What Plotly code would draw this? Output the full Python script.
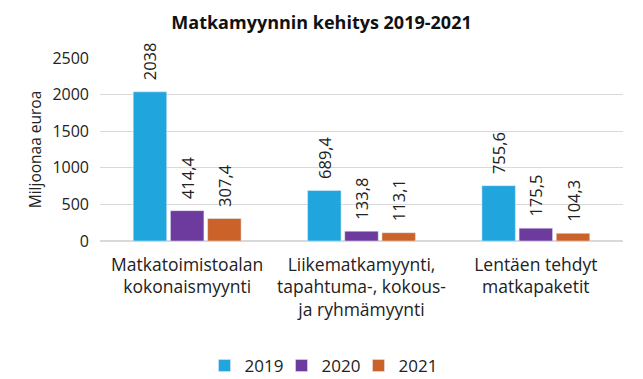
import plotly.graph_objects as go

categories = ["Matkatoimistoalan<br>kokonaismyynti",
              "Liikematkamyynti,<br>tapahtuma-, kokous-<br>ja ryhmämyynti",
              "Lentäen tehdyt<br>matkapaketit"]
v2019 = [2038, 689.4, 755.6]
v2020 = [414.4, 133.8, 175.5]
v2021 = [307.4, 113.1, 104.3]
labels2019 = ["2038", "689,4", "755,6"]
labels2020 = ["414,4", "133,8", "175,5"]
labels2021 = ["307,4", "113,1", "104,3"]
y_ticks = [0, 500, 1000, 1500, 2000, 2500]

FONT = "'Open Sans', sans-serif"
fig = go.Figure()
for name, vals, labs, col in [("2019", v2019, labels2019, "#21A5DD"),
                              ("2020", v2020, labels2020, "#6D3A9D"),
                              ("2021", v2021, labels2021, "#CA6229")]:
    fig.add_bar(x=categories, y=vals, name=name, marker_color=col,
                text=labs, texttemplate="\u00a0\u00a0%{text}",
                textposition="outside", textangle=-90, constraintext="none",
                textfont=dict(size=16.5, color="#222"), cliponaxis=False)

fig.update_layout(
    width=643, height=379,
    margin=dict(l=100, r=20, t=58, b=138),
    paper_bgcolor="white", plot_bgcolor="white",
    font=dict(family=FONT, color="#222"),
    title=dict(text="<b>Matkamyynnin kehitys 2019-2021</b>", x=321.5/643, xanchor="center",
               y=1 - 23/379, yanchor="middle", font=dict(size=18, color="#111")),
    barmode="group", bargap=0.36, bargroupgap=0.1,
    showlegend=True,
    legend=dict(orientation="h", xref="container", yref="container",
                x=320/643, xanchor="center", y=(379 - 366)/379, yanchor="middle",
                font=dict(size=17), traceorder="normal", entrywidth=32,
                itemwidth=30),
)
fig.update_yaxes(range=[0, 2500], tickvals=y_ticks, showgrid=True, gridcolor="#D9D9D9",
                 zeroline=True, zerolinecolor="#D9D9D9", tickfont=dict(size=16),
                 title=dict(text="Miljoonaa euroa", font=dict(size=15.5), standoff=6),
                 ticks="", showline=False, automargin=False, ticklabelstandoff=10)
fig.update_xaxes(tickfont=dict(size=17.5), showline=False, ticks="", automargin=False,
                 tickangle=0, ticklabelstandoff=11)
fig.write_html("out.html", config={"displayModeBar": False},
               post_script="document.body.style.margin='0';document.body.style.overflow='hidden';")
